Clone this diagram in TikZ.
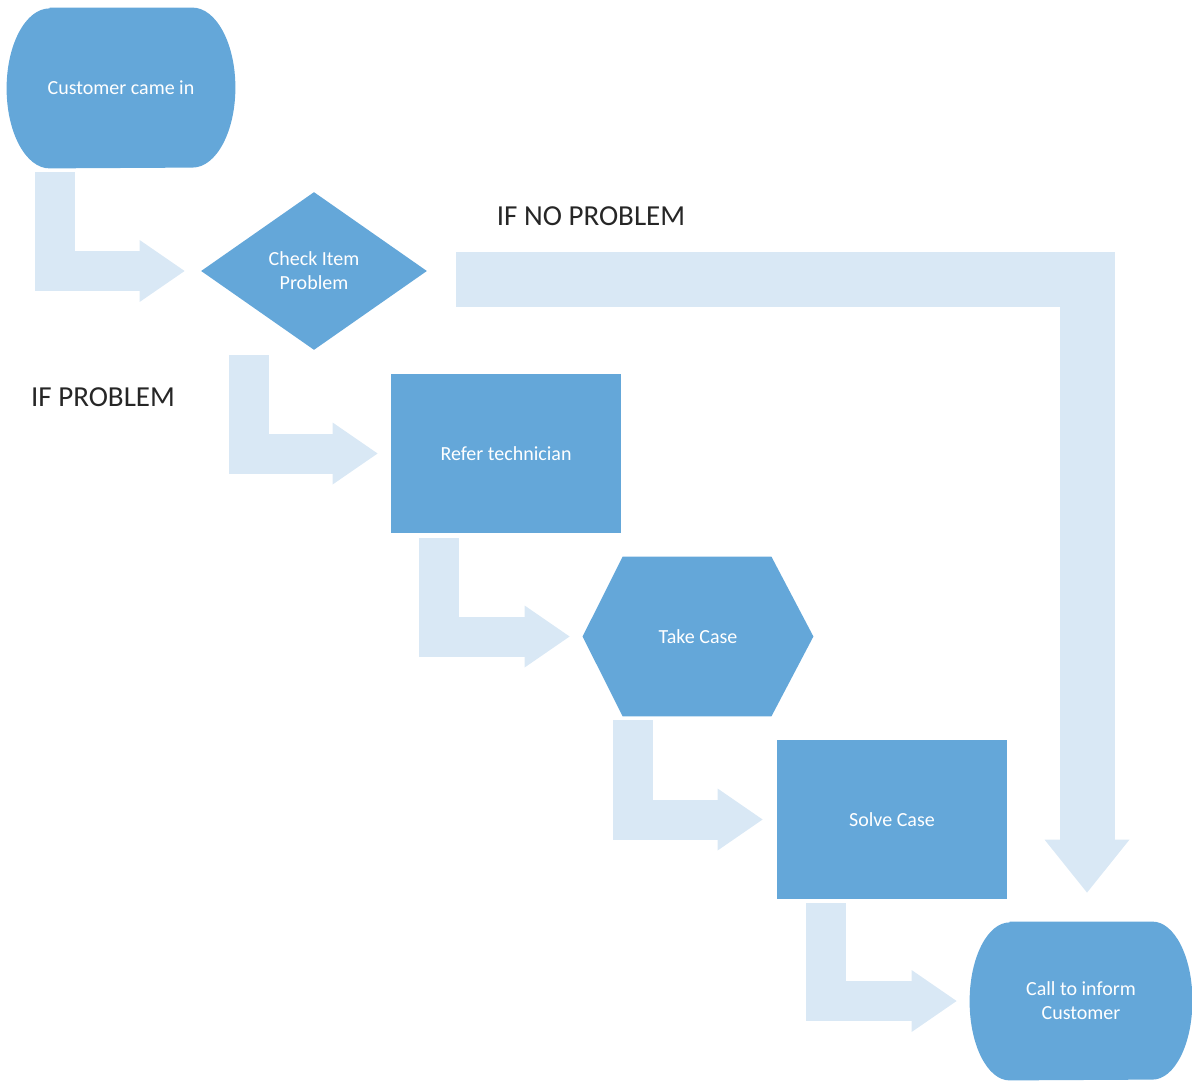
\documentclass[tikz,border=0pt]{standalone}
\usepackage{fontspec}
\setmainfont{Carlito}
\usetikzlibrary{arrows.meta,shapes.geometric,backgrounds,calc}
\definecolor{nodeblue}{HTML}{64A7D9}
\definecolor{arrowblue}{HTML}{D9E8F5}
\definecolor{labelgray}{HTML}{262626}
\begin{document}
\begin{tikzpicture}[x=0.5pt,y=-0.5pt,
  txt/.style={text=white, font=\fontsize{10}{12}\selectfont, align=center, inner sep=0pt},
  boxnode/.style={txt, fill=nodeblue, minimum width=115pt, minimum height=79.5pt},
  bent/.style={draw=arrowblue, line width=20pt, line join=miter,
    -{Triangle[length=22.5pt,width=31pt,line width=0pt]}},
  bigbent/.style={draw=arrowblue, line width=27.5pt, line join=miter,
    -{Triangle[length=26.5pt,width=42.5pt,line width=0pt]}},
  lbl/.style={font=\fontsize{14.5}{17}\selectfont, text=labelgray, inner sep=0pt}]
\useasboundingbox (0,0) rectangle (1192,1080);

% nodes
\node[txt, minimum width=114pt, minimum height=80pt] (start) at (121,88) {Customer came in};
\node[txt, shape=diamond, fill=nodeblue, minimum width=113pt, minimum height=79pt] (check) at (314,271) {Check Item\\Problem};
\node[boxnode] (refer) at (506,453.5) {Refer technician};
\node[txt, minimum width=115pt, minimum height=79.5pt] (take) at (698,636.5) {Take Case};
\node[boxnode] (solve) at (892,819.5) {Solve Case};
\node[txt, minimum width=111pt, minimum height=79pt] (call) at (1081,1001) {Call to inform\\Customer};

% shapes behind text
\begin{scope}[on background layer]
\fill[nodeblue] ([xshift=21.5pt]start.north west) -- ([xshift=-21.5pt]start.north east)
  arc[start angle=90,end angle=-90,x radius=21.5pt,y radius=40pt]
  -- ([xshift=21.5pt]start.south west)
  arc[start angle=270,end angle=90,x radius=21.5pt,y radius=40pt] -- cycle;
\fill[nodeblue] ([xshift=20pt]call.north west) -- ([xshift=-20pt]call.north east)
  arc[start angle=90,end angle=-90,x radius=20pt,y radius=39.5pt]
  -- ([xshift=20pt]call.south west)
  arc[start angle=270,end angle=90,x radius=20pt,y radius=39.5pt] -- cycle;
\fill[nodeblue] (take.west) -- ([xshift=20pt]take.north west) -- ([xshift=-21pt]take.north east)
  -- (take.east) -- ([xshift=-21pt]take.south east) -- ([xshift=20pt]take.south west) -- cycle;
\end{scope}

% connectors
\draw[bent] ($(start.south west)+(48,4)$) |- ($(check.west)+(-16,0)$);
\draw[bent] ($(check.south)+(-65,5)$) |- ($(refer.west)+(-13,0)$);
\draw[bent] ($(refer.south west)+(48,5)$) |- ($(take.west)+(-13,0)$);
\draw[bent] ($(take.south west)+(50,4)$) |- ($(solve.west)+(-14,0)$);
\draw[bent] ($(solve.south west)+(49,4)$) |- ($(call.west)+(-13,0)$);
\draw[bigbent] ($(check.east)+(29,9)$) -| ($(call.north)+(6,-29)$);

% labels
\node[lbl] (noprob) at (591,216) {IF NO PROBLEM};
\node[lbl] (prob) at (103,397) {IF PROBLEM};
\end{tikzpicture}
\end{document}
